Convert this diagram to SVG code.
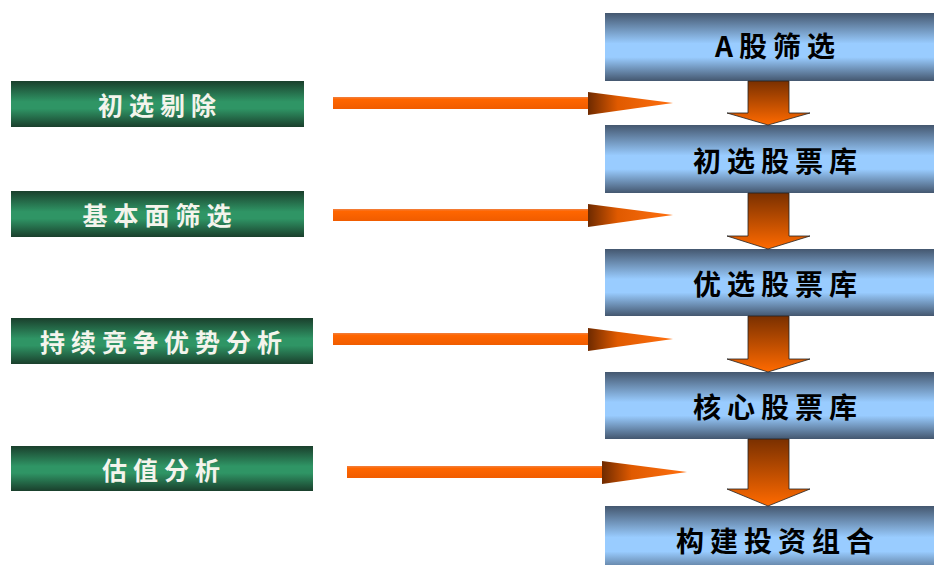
<svg xmlns="http://www.w3.org/2000/svg" width="934" height="565" viewBox="0 0 934 565">
<defs>
<linearGradient id="gGreen" x1="0" y1="0" x2="0" y2="1">
<stop offset="0" stop-color="#1a3f2c"/><stop offset="0.45" stop-color="#2f9565"/><stop offset="0.6" stop-color="#2f9565"/><stop offset="1" stop-color="#1a3f2c"/>
</linearGradient>
<linearGradient id="gBlue" x1="0" y1="0" x2="0" y2="1">
<stop offset="0" stop-color="#44576f"/><stop offset="0.45" stop-color="#99ccff"/><stop offset="0.65" stop-color="#99ccff"/><stop offset="1" stop-color="#44576f"/>
</linearGradient>
<linearGradient id="gDown" x1="0" y1="0" x2="0" y2="1">
<stop offset="0" stop-color="#7a3000"/><stop offset="1" stop-color="#ff6a00"/>
</linearGradient>
<linearGradient id="gShaft" x1="0" y1="0" x2="0" y2="1">
<stop offset="0" stop-color="#f08040"/><stop offset="0.2" stop-color="#ff6600"/><stop offset="1" stop-color="#f05c00"/>
</linearGradient>
<linearGradient id="gHead" x1="0" y1="0" x2="1" y2="0">
<stop offset="0" stop-color="#6e2a00"/><stop offset="0.35" stop-color="#e05a00"/><stop offset="1" stop-color="#ff7010"/>
</linearGradient>
</defs>
<style>
.g{fill:url(#gGreen)}
.b{fill:url(#gBlue)}
.gt{font-family:"Noto Sans CJK SC","Liberation Sans",sans-serif;font-weight:bold;font-size:25px;fill:#f4f4ec;letter-spacing:6px;text-anchor:middle}
.bt{font-family:"Noto Sans CJK SC","Liberation Sans",sans-serif;font-weight:bold;font-size:28px;fill:#000;letter-spacing:6px;text-anchor:middle}
.da{fill:url(#gDown);stroke:#222;stroke-width:0.8}
.sh{fill:url(#gShaft)}
.hd{fill:url(#gHead)}
</style>
<g id="n-a"><rect class="b" x="605" y="13" width="340" height="68"/><text class="bt" x="778" y="57">A股筛选</text></g>
<g id="n-chuxuanku"><rect class="b" x="605" y="125" width="340" height="68"/><text class="bt" x="778" y="172">初选股票库</text></g>
<g id="n-youxuanku"><rect class="b" x="605" y="249" width="340" height="67"/><text class="bt" x="778" y="295">优选股票库</text></g>
<g id="n-hexinku"><rect class="b" x="605" y="372" width="340" height="67"/><text class="bt" x="778" y="418">核心股票库</text></g>
<g id="n-goujian"><rect class="b" x="605" y="506" width="340" height="70"/><text class="bt" x="778" y="552">构建投资组合</text></g>
<g id="n-chuxuan"><rect class="g" x="11" y="81" width="293" height="46"/><text class="gt" x="160" y="115">初选剔除</text></g>
<g id="n-jiben"><rect class="g" x="11" y="191" width="293" height="46"/><text class="gt" x="160" y="225">基本面筛选</text></g>
<g id="n-chixu"><rect class="g" x="11" y="318" width="302" height="46"/><text class="gt" x="164" y="352">持续竞争优势分析</text></g>
<g id="n-guzhi"><rect class="g" x="11" y="446" width="302" height="45"/><text class="gt" x="164" y="480">估值分析</text></g>
<g id="connectors">
<polygon class="da" points="748,81 789,81 789,113 810,113 768,125 727,113 748,113"/>
<polygon class="da" points="748,193 789,193 789,236 810,236 768,249 727,236 748,236"/>
<polygon class="da" points="748,316 789,316 789,359 810,359 768,372 727,359 748,359"/>
<polygon class="da" points="748,439 789,439 789,489 810,489 768,506 727,489 748,489"/>
<rect class="sh" x="333" y="97" width="256" height="12"/><polygon class="hd" points="588,92 673,103 588,115"/>
<rect class="sh" x="333" y="209" width="256" height="12"/><polygon class="hd" points="588,204 673,215 588,227"/>
<rect class="sh" x="333" y="333" width="256" height="12"/><polygon class="hd" points="588,328 673,339 588,351"/>
<rect class="sh" x="347" y="466" width="256" height="12"/><polygon class="hd" points="602,461 687,472 602,484"/>
</g>
</svg>
